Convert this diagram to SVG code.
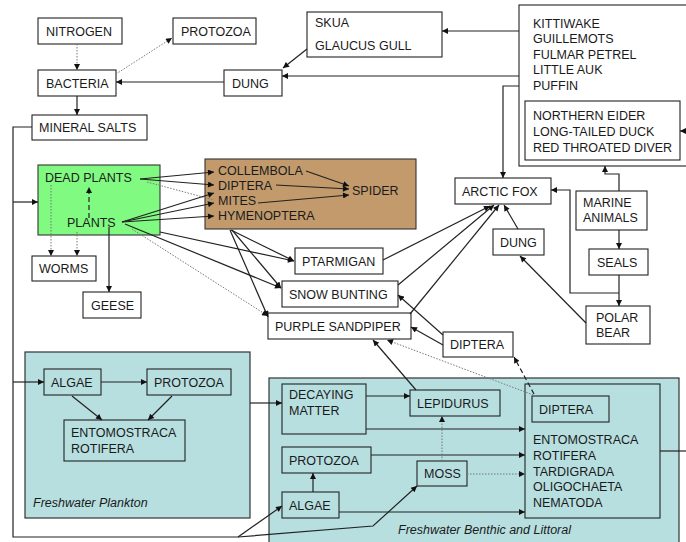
<svg xmlns="http://www.w3.org/2000/svg" width="686" height="542" viewBox="0 0 686 542">
<defs>
<style>
.b{fill:#fff;stroke:#222;stroke-width:1.1}
.t{font-family:"Liberation Sans",Arial,sans-serif;font-size:12.5px;fill:#1a1a1a}
.i{font-family:"Liberation Sans",Arial,sans-serif;font-size:12.5px;font-style:italic;fill:#1a1a1a}
.c path{fill:none;stroke:#222;stroke-width:1.2}
.c .d{stroke:#777;stroke-dasharray:1.5 1.5;stroke-width:1}
.c .k{stroke-dasharray:5 3}
</style>
<marker id="a" viewBox="0 0 10 10" refX="10" refY="5" markerWidth="7" markerHeight="6" markerUnits="userSpaceOnUse" orient="auto"><path d="M0,0 L10,5 L0,10 z" fill="#111"/></marker>
</defs>
<rect width="686" height="542" fill="#fff"/>

<g id="plankton">
<rect x="25" y="352" width="225" height="166" fill="#b8dfe0" stroke="#333" stroke-width="1.2"/>
<text class="i" x="33" y="507">Freshwater Plankton</text>
</g>
<g id="benthic">
<rect x="269" y="378" width="410" height="170" fill="#b8dfe0" stroke="#333" stroke-width="1.2"/>
<text class="i" x="398" y="534">Freshwater Benthic and Littoral</text>
</g>
<g id="green">
<rect x="38" y="165" width="122" height="70" fill="#80fa80" stroke="#333" stroke-width="1.1"/>
<text class="t" x="45" y="182" fill="#143014">DEAD PLANTS</text>
<text class="t" x="67" y="227" fill="#143014">PLANTS</text>
</g>
<g id="invert">
<rect x="205" y="159" width="211" height="70" fill="#c29a6c" stroke="#333" stroke-width="1.1"/>
<text class="t" x="218" y="175">COLLEMBOLA</text>
<text class="t" x="218" y="190">DIPTERA</text>
<text class="t" x="218" y="205">MITES</text>
<text class="t" x="218" y="220">HYMENOPTERA</text>
<text class="t" x="352" y="195">SPIDER</text>
</g>

<g id="nitrogen"><rect class="b" x="38" y="18" width="84" height="26"/><text class="t" x="46" y="35.5">NITROGEN</text></g>
<g id="protozoa-top"><rect class="b" x="173" y="18" width="83" height="26"/><text class="t" x="181" y="35.5">PROTOZOA</text></g>
<g id="bacteria"><rect class="b" x="38" y="70" width="78" height="26"/><text class="t" x="46" y="87.5">BACTERIA</text></g>
<g id="mineral"><rect class="b" x="32" y="115" width="115" height="25"/><text class="t" x="39" y="132">MINERAL SALTS</text></g>
<g id="dung-top"><rect class="b" x="224" y="70" width="58" height="26"/><text class="t" x="232" y="87.5">DUNG</text></g>
<g id="skua"><rect class="b" x="307" y="12" width="135" height="45"/><text class="t" x="315" y="27">SKUA</text><text class="t" x="315" y="50">GLAUCUS GULL</text></g>
<g id="seabirds">
<rect class="b" x="519" y="5" width="180" height="161"/>
<text class="t" x="533" y="28">KITTIWAKE</text>
<text class="t" x="533" y="43">GUILLEMOTS</text>
<text class="t" x="533" y="59">FULMAR PETREL</text>
<text class="t" x="533" y="74">LITTLE AUK</text>
<text class="t" x="533" y="90">PUFFIN</text>
</g>
<g id="ducks">
<rect class="b" x="525" y="101" width="155" height="59"/>
<text class="t" x="533" y="120">NORTHERN EIDER</text>
<text class="t" x="533" y="136">LONG-TAILED DUCK</text>
<text class="t" x="533" y="152">RED THROATED DIVER</text>
</g>
<g id="worms"><rect class="b" x="32" y="256" width="64" height="25"/><text class="t" x="39" y="273">WORMS</text></g>
<g id="geese"><rect class="b" x="83" y="292" width="58" height="26"/><text class="t" x="91" y="309.5">GEESE</text></g>
<g id="ptarmigan"><rect class="b" x="295" y="248" width="88" height="26"/><text class="t" x="302" y="265.5">PTARMIGAN</text></g>
<g id="snowbunting"><rect class="b" x="282" y="281" width="116" height="26"/><text class="t" x="289" y="298.5">SNOW BUNTING</text></g>
<g id="sandpiper"><rect class="b" x="268" y="313" width="143" height="26"/><text class="t" x="275" y="330.5">PURPLE SANDPIPER</text></g>
<g id="arcticfox"><rect class="b" x="455" y="178" width="96" height="26"/><text class="t" x="462" y="195.5">ARCTIC FOX</text></g>
<g id="dung-right"><rect class="b" x="493" y="229" width="51" height="26"/><text class="t" x="500" y="246.5">DUNG</text></g>
<g id="marine"><rect class="b" x="576" y="191" width="71" height="39"/><text class="t" x="583" y="207">MARINE</text><text class="t" x="583" y="222">ANIMALS</text></g>
<g id="seals"><rect class="b" x="589" y="249" width="59" height="26"/><text class="t" x="597" y="266.5">SEALS</text></g>
<g id="polarbear"><rect class="b" x="586" y="306" width="64" height="38"/><text class="t" x="596" y="322">POLAR</text><text class="t" x="596" y="337">BEAR</text></g>
<g id="diptera-mid"><rect class="b" x="443" y="332" width="70" height="25"/><text class="t" x="450" y="349">DIPTERA</text></g>

<g id="algae-p"><rect x="44" y="369" width="57" height="26" fill="#b8dfe0" stroke="#222" stroke-width="1.1"/><text class="t" x="51" y="386.5">ALGAE</text></g>
<g id="protozoa-p"><rect x="147" y="369" width="84" height="26" fill="#b8dfe0" stroke="#222" stroke-width="1.1"/><text class="t" x="154" y="386.5">PROTOZOA</text></g>
<g id="ento-p"><rect x="64" y="420" width="121" height="41" fill="#b8dfe0" stroke="#222" stroke-width="1.1"/><text class="t" x="71" y="437">ENTOMOSTRACA</text><text class="t" x="71" y="453">ROTIFERA</text></g>

<g id="decaying"><rect x="282" y="384" width="84" height="50" fill="#b8dfe0" stroke="#222" stroke-width="1.1"/><text class="t" x="289" y="399">DECAYING</text><text class="t" x="289" y="415">MATTER</text></g>
<g id="lepidurus"><rect x="410" y="390" width="90" height="26" fill="#b8dfe0" stroke="#222" stroke-width="1.1"/><text class="t" x="417" y="407.5">LEPIDURUS</text></g>
<g id="protozoa-b"><rect x="282" y="447" width="89" height="26" fill="#b8dfe0" stroke="#222" stroke-width="1.1"/><text class="t" x="289" y="464.5">PROTOZOA</text></g>
<g id="algae-b"><rect x="282" y="492" width="57" height="26" fill="#b8dfe0" stroke="#222" stroke-width="1.1"/><text class="t" x="289" y="509.5">ALGAE</text></g>
<g id="moss"><rect x="417" y="461" width="50" height="25" fill="#b8dfe0" stroke="#222" stroke-width="1.1"/><text class="t" x="424" y="478">MOSS</text></g>
<g id="fauna-b">
<rect x="525" y="384" width="135" height="134" fill="#b8dfe0" stroke="#222" stroke-width="1.1"/>
<rect x="532" y="396" width="77" height="26" fill="#b8dfe0" stroke="#222" stroke-width="1.1"/>
<text class="t" x="539" y="413.5">DIPTERA</text>
<text class="t" x="533" y="444">ENTOMOSTRACA</text>
<text class="t" x="533" y="460">ROTIFERA</text>
<text class="t" x="533" y="476">TARDIGRADA</text>
<text class="t" x="533" y="491">OLIGOCHAETA</text>
<text class="t" x="533" y="507">NEMATODA</text>
</g>

<g id="connectors" class="c">
<path class="d" d="M77,44 L77,70" marker-end="url(#a)"/>
<path class="d" d="M116,74 L172,38" marker-end="url(#a)"/>
<path d="M77,96 L77,115" marker-end="url(#a)"/>
<path d="M224,82 L116,82" marker-end="url(#a)"/>
<path d="M307,49 L283,68" marker-end="url(#a)"/>
<path d="M519,31 L442,31" marker-end="url(#a)"/>
<path d="M519,76 L282,76" marker-end="url(#a)"/>
<path d="M519,86 L503,86 L503,178" marker-end="url(#a)"/>
<path d="M32,127 L13,127 L13,537 L238,537"/>
<path d="M13,202 L38,202" marker-end="url(#a)"/>
<path d="M13,382 L44,382" marker-end="url(#a)"/>
<path d="M238,537 L282,506" marker-end="url(#a)"/>
<path d="M238,537 L373,526 L417,486" marker-end="url(#a)"/>
<path d="M140,179 L214,172" marker-end="url(#a)"/>
<path d="M140,179 L214,185" marker-end="url(#a)"/>
<path class="d" d="M147,182 L214,200"/>
<path d="M122,222 L214,193" marker-end="url(#a)"/>
<path d="M122,222 L214,203" marker-end="url(#a)"/>
<path d="M122,222 L214,216" marker-end="url(#a)"/>
<path class="k" d="M89,218 L89,187" marker-end="url(#a)"/>
<path class="d" d="M51,185 L51,256" marker-end="url(#a)"/>
<path class="d" d="M77,232 L77,256" marker-end="url(#a)"/>
<path d="M109,227 L109,292" marker-end="url(#a)"/>
<path d="M306,171 L349,186" marker-end="url(#a)"/>
<path d="M276,185 L349,189" marker-end="url(#a)"/>
<path d="M258,203 L349,195" marker-end="url(#a)"/>
<path d="M160,232 L294,261" marker-end="url(#a)"/>
<path d="M125,224 L281,288" marker-end="url(#a)"/>
<path class="d" d="M132,229 L268,316" marker-end="url(#a)"/>
<path d="M231,230 L294,261" marker-end="url(#a)"/>
<path d="M232,230 L281,288" marker-end="url(#a)"/>
<path d="M230,230 L268,317" marker-end="url(#a)"/>
<path d="M383,260 L490,206" marker-end="url(#a)"/>
<path d="M398,285 L494,205" marker-end="url(#a)"/>
<path d="M410,314 L499,205" marker-end="url(#a)"/>
<path d="M518,229 L504,205" marker-end="url(#a)"/>
<path d="M586,323 L520,256" marker-end="url(#a)"/>
<path d="M619,191 L619,174 L605,174 L605,166" marker-end="url(#a)"/>
<path d="M619,230 L619,249" marker-end="url(#a)"/>
<path d="M619,275 L619,306" marker-end="url(#a)"/>
<path d="M619,293 L570,293 L570,190 L551,190" marker-end="url(#a)"/>
<path d="M692,131 L680,131" marker-end="url(#a)"/>
<path d="M443,335 L398,295" marker-end="url(#a)"/>
<path d="M443,345 L411,327" marker-end="url(#a)"/>
<path class="k" d="M534,394 L514,357" marker-end="url(#a)"/>
<path class="d" d="M536,396 L387,340" marker-end="url(#a)"/>
<path d="M416,390 L373,340" marker-end="url(#a)"/>
<path d="M101,382 L147,382" marker-end="url(#a)"/>
<path d="M72,396 L102,420" marker-end="url(#a)"/>
<path d="M172,396 L148,420" marker-end="url(#a)"/>
<path d="M250,403 L282,403" marker-end="url(#a)"/>
<path d="M366,396 L410,396" marker-end="url(#a)"/>
<path d="M366,429 L525,429" marker-end="url(#a)"/>
<path d="M371,455 L525,455" marker-end="url(#a)"/>
<path class="d" d="M467,474 L525,474" marker-end="url(#a)"/>
<path d="M339,512 L525,512" marker-end="url(#a)"/>
<path d="M313,492 L313,473" marker-end="url(#a)"/>
<path class="d" d="M442,461 L442,416" marker-end="url(#a)"/>
<path d="M660,451 L686,451"/>
</g>
</svg>
